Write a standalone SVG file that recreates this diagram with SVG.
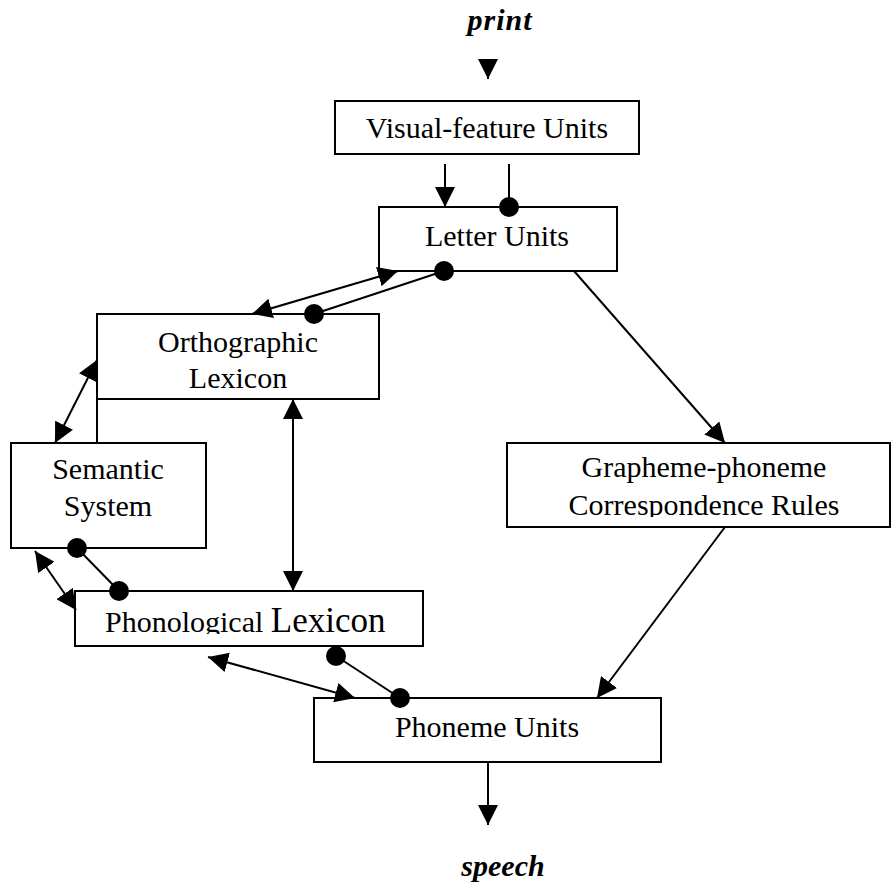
<svg xmlns="http://www.w3.org/2000/svg" width="891" height="886" viewBox="0 0 891 886">
<style>
.box{fill:#fff;stroke:#000;stroke-width:2}
.t{font-family:"Liberation Serif","Times New Roman",serif;font-size:30px;fill:#000;text-anchor:middle}
.it{font-family:"Liberation Serif","Times New Roman",serif;font-size:30px;font-style:italic;font-weight:bold;fill:#000;text-anchor:middle}
.c{stroke:#000;stroke-width:2;fill:none}
</style>
<defs>
<marker id="arr" markerUnits="userSpaceOnUse" markerWidth="20" markerHeight="20" viewBox="0 0 20 20" refX="20" refY="10" orient="auto-start-reverse"><path d="M0,0 L20,10 L0,20 z" fill="#000"/></marker>
<marker id="dot" markerUnits="userSpaceOnUse" markerWidth="22" markerHeight="22" viewBox="0 0 22 22" refX="11" refY="11"><circle cx="11" cy="11" r="10" fill="#000"/></marker>
<clipPath id="clipPh"><rect x="0" y="560" width="891" height="74"/></clipPath>
<clipPath id="clipGr"><rect x="0" y="440" width="891" height="77"/></clipPath>
</defs>
<rect width="891" height="886" fill="#fff"/>
<g id="print"><text class="it" x="500" y="30" letter-spacing="1">print</text></g>
<g id="speech"><text class="it" x="503" y="876">speech</text></g>
<g id="visual"><rect class="box" x="335" y="101" width="304" height="53"/><text class="t" x="487" y="138">Visual-feature Units</text></g>
<g id="letter"><rect class="box" x="379" y="207" width="238" height="64"/><text class="t" x="497" y="246">Letter Units</text></g>
<g id="ortho"><rect class="box" x="97" y="314" width="282" height="85"/><text class="t" x="238" y="352">Orthographic</text><text class="t" x="238" y="388">Lexicon</text></g>
<g id="semantic"><rect class="box" x="11" y="443" width="195" height="105"/><text class="t" x="108" y="479">Semantic</text><text class="t" x="108" y="516">System</text></g>
<g id="grapheme"><rect class="box" x="507" y="443" width="383" height="84"/><text class="t" x="704" y="477">Grapheme-phoneme</text><text class="t" x="704" y="515" clip-path="url(#clipGr)">Correspondence Rules</text></g>
<g id="phono"><rect class="box" x="75" y="591" width="348" height="55"/><text class="t" x="105" y="632" style="text-anchor:start" clip-path="url(#clipPh)">Phonological <tspan font-size="35">Lexicon</tspan></text></g>
<g id="phoneme"><rect class="box" x="314" y="698" width="347" height="64"/><text class="t" x="487" y="737">Phoneme Units</text></g>
<g id="connectors">
<line class="c" x1="488" y1="60" x2="488" y2="79" marker-end="url(#arr)"/>
<line class="c" x1="445" y1="164" x2="445" y2="207" marker-end="url(#arr)"/>
<line class="c" x1="509" y1="164" x2="509" y2="207" marker-end="url(#dot)"/>
<line class="c" x1="398" y1="271" x2="252" y2="314" marker-start="url(#arr)" marker-end="url(#arr)"/>
<line class="c" x1="444" y1="271" x2="314" y2="314" marker-start="url(#dot)" marker-end="url(#dot)"/>
<line class="c" x1="97" y1="360" x2="55" y2="443" marker-start="url(#arr)" marker-end="url(#arr)"/>
<line class="c" x1="97" y1="399" x2="97" y2="443"/>
<line class="c" x1="293" y1="399" x2="293" y2="591" marker-start="url(#arr)" marker-end="url(#arr)"/>
<line class="c" x1="77" y1="548" x2="119" y2="591" marker-start="url(#dot)" marker-end="url(#dot)"/>
<line class="c" x1="35" y1="551" x2="76" y2="610" marker-start="url(#arr)" marker-end="url(#arr)"/>
<line class="c" x1="208" y1="657" x2="355" y2="698" marker-start="url(#arr)" marker-end="url(#arr)"/>
<line class="c" x1="336" y1="656" x2="400" y2="698" marker-start="url(#dot)" marker-end="url(#dot)"/>
<line class="c" x1="574" y1="271" x2="725" y2="443" marker-end="url(#arr)"/>
<line class="c" x1="725" y1="527" x2="597" y2="698" marker-end="url(#arr)"/>
<line class="c" x1="488" y1="762" x2="488" y2="825" marker-end="url(#arr)"/>
</g>
</svg>
